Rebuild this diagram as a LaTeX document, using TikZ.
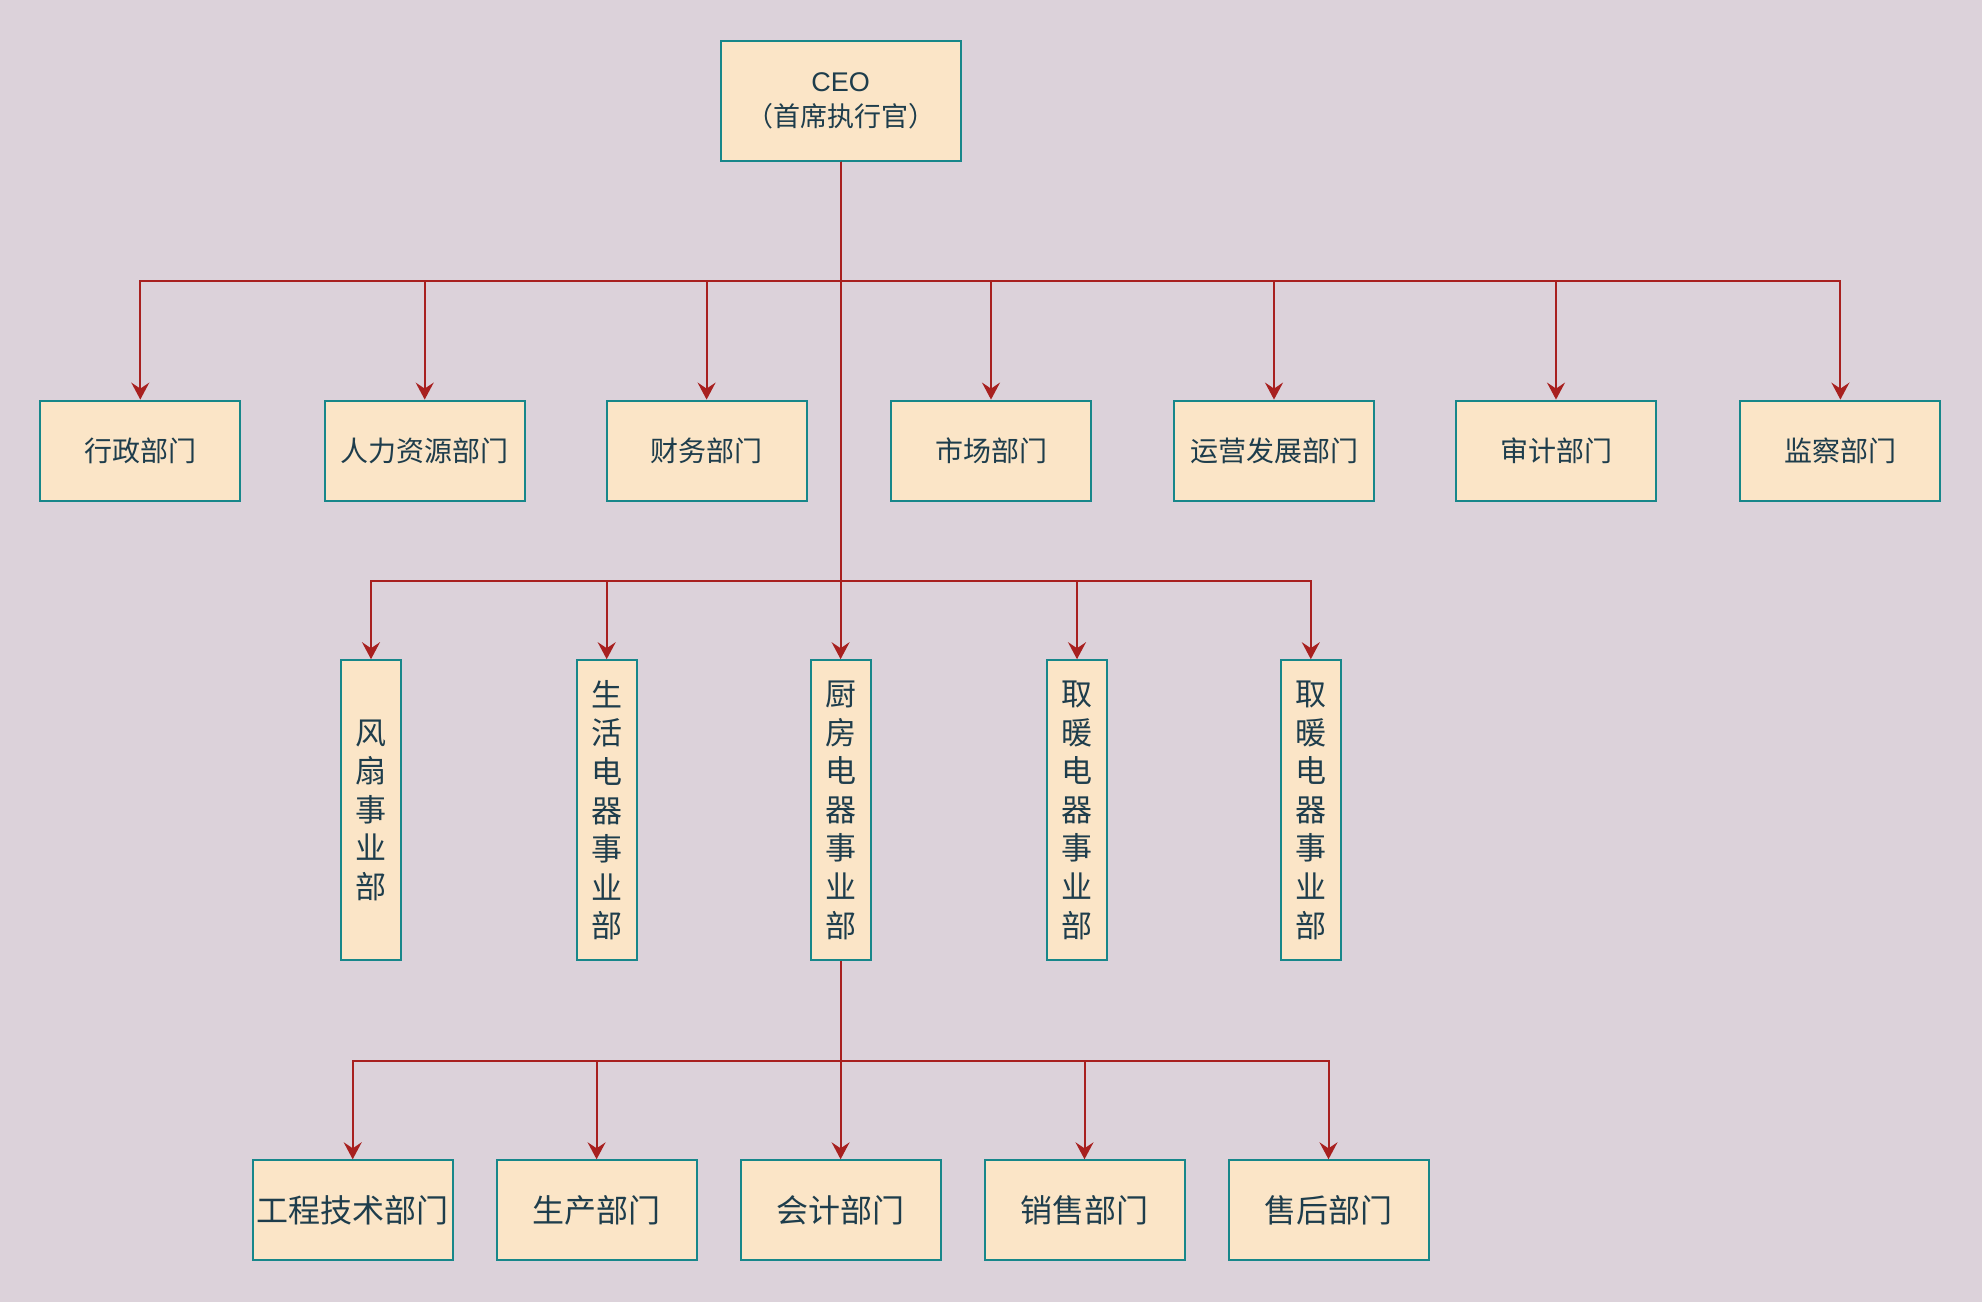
\documentclass[tikz,border=0pt]{standalone}
\usepackage{fontspec}
\setmainfont{Noto Sans CJK SC}
\newfontfamily\latinfont{Liberation Sans}
\usetikzlibrary{arrows.meta}

\definecolor{bgcol}{HTML}{DCD2DA}
\definecolor{boxfill}{HTML}{FBE5C7}
\definecolor{boxline}{HTML}{17878A}
\definecolor{ink}{HTML}{1E3D4C}
\definecolor{wire}{HTML}{A8201F}

\tikzset{
  orgbox/.style={draw=boxline, fill=boxfill, line width=2pt, inner sep=0pt, text=ink, align=center},
  deptbox/.style={orgbox, minimum width=200pt, minimum height=100pt, font=\fontsize{28}{32}\selectfont},
  bizbox/.style={orgbox, minimum width=60pt, minimum height=300pt, font=\fontsize{31}{38.6}\selectfont},
  subbox/.style={orgbox, minimum width=200pt, minimum height=100pt, font=\fontsize{32}{36}\selectfont},
  link/.style={draw=wire, line width=2pt, -{Stealth[length=17pt, width=18pt, inset=6pt]}},
}

\begin{document}
\begin{tikzpicture}[x=1pt, y=-1pt]
    % Bus heights of the three levels
    \def\busA{280.6}
    \def\busB{581.4}
    \def\busC{1060.5}

    % Background, also fixes the page size
    \fill[bgcol] (0,0) rectangle (1982,1302);

    % Top of the chart
    \node[orgbox, minimum width=240pt, minimum height=120pt, font=\fontsize{27}{35}\selectfont] (ceo) at (840.6,100.5) {{\latinfont CEO}\\（首席执行官）};

    % Functional departments
    \node[deptbox] (adm) at (140.3,450.6) {行政部门};
    \node[deptbox] (hr)  at (424.7,450.6) {人力资源部门};
    \node[deptbox] (fin) at (706.6,450.6) {财务部门};
    \node[deptbox] (mkt) at (991,450.6)   {市场部门};
    \node[deptbox] (ops) at (1274,450.6)  {运营发展部门};
    \node[deptbox] (aud) at (1556,450.6)  {审计部门};
    \node[deptbox] (sup) at (1840.4,450.6) {监察部门};

    % Business units, text set top to bottom
    \node[bizbox] (fan)   at (371,810.2)    {风\\扇\\事\\业\\部};
    \node[bizbox] (life)  at (606.7,810.2)  {生\\活\\电\\器\\事\\业\\部};
    \node[bizbox] (kit)   at (840.6,810.2)  {厨\\房\\电\\器\\事\\业\\部};
    \node[bizbox] (heatA) at (1077,810.2)   {取\\暖\\电\\器\\事\\业\\部};
    \node[bizbox] (heatB) at (1310.8,810.2) {取\\暖\\电\\器\\事\\业\\部};

    % Departments under the kitchen unit
    \node[subbox] (eng)   at (352.7,1210.3)  {工程技术部门};
    \node[subbox] (prod)  at (596.6,1210.3)  {生产部门};
    \node[subbox] (acc)   at (840.6,1210.3)  {会计部门};
    \node[subbox] (sales) at (1084.5,1210.3) {销售部门};
    \node[subbox] (after) at (1328.5,1210.3) {售后部门};

    % Junctions on the trunk lines
    \coordinate (busA) at (840.6,\busA);
    \coordinate (busB) at (840.6,\busB);
    \coordinate (busC) at (840.6,\busC);

    % CEO to the functional departments
    \draw[link] (ceo.south) -- (busA) -| (adm.north);
    \draw[link] (ceo.south) -- (busA) -| (hr.north);
    \draw[link] (ceo.south) -- (busA) -| (fin.north);
    \draw[link] (ceo.south) -- (busA) -| (mkt.north);
    \draw[link] (ceo.south) -- (busA) -| (ops.north);
    \draw[link] (ceo.south) -- (busA) -| (aud.north);
    \draw[link] (ceo.south) -- (busA) -| (sup.north);

    % CEO to the business units
    \draw[link] (ceo.south) -- (busB) -| (fan.north);
    \draw[link] (ceo.south) -- (busB) -| (life.north);
    \draw[link] (ceo.south) -- (kit.north);
    \draw[link] (ceo.south) -- (busB) -| (heatA.north);
    \draw[link] (ceo.south) -- (busB) -| (heatB.north);

    % Kitchen unit to its departments
    \draw[link] (kit.south) -- (busC) -| (eng.north);
    \draw[link] (kit.south) -- (busC) -| (prod.north);
    \draw[link] (kit.south) -- (acc.north);
    \draw[link] (kit.south) -- (busC) -| (sales.north);
    \draw[link] (kit.south) -- (busC) -| (after.north);
\end{tikzpicture}
\end{document}
